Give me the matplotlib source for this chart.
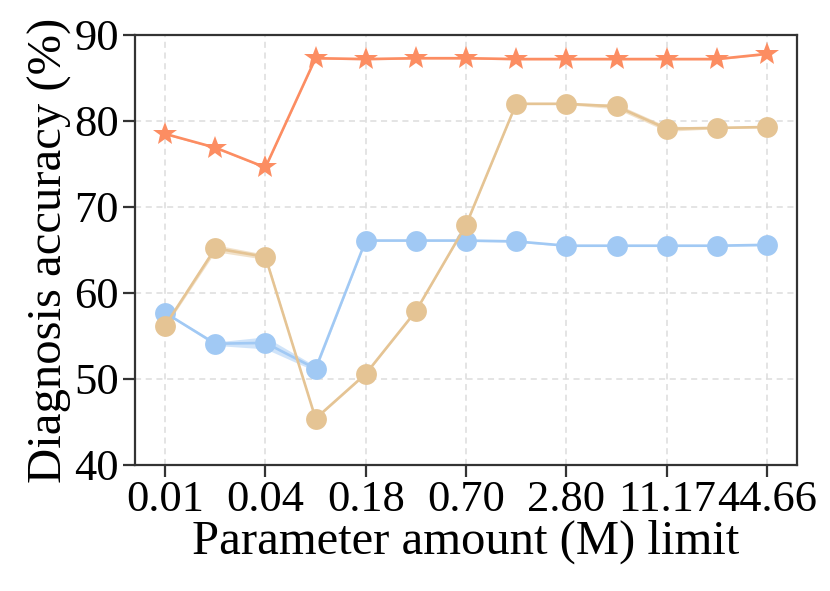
import numpy as np
import matplotlib.pyplot as plt

plt.rcParams['font.family'] = ['Liberation Serif', 'DejaVu Serif']

# parameter limits (M), one point per limit
param_limits = ['0.01', '0.02', '0.04', '0.09', '0.18', '0.35', '0.70',
                '1.40', '2.80', '5.58', '11.17', '22.33', '44.66']

# mean accuracy per method
acc_star = [78.5, 76.9, 74.6, 87.3, 87.2, 87.3, 87.3, 87.2, 87.2, 87.2, 87.2, 87.2, 87.8]
acc_tan = [56.2, 65.2, 64.2, 45.4, 50.6, 57.9, 67.9, 82.0, 82.0, 81.7, 79.1, 79.2, 79.3]
acc_blue = [57.7, 54.1, 54.2, 51.2, 66.1, 66.1, 66.1, 66.0, 65.5, 65.5, 65.5, 65.5, 65.6]

# spread (half width of the shaded band)
err_star = [0.1, 0.1, 0.1, 0.1, 0.1, 0.1, 0.1, 0.1, 0.1, 0.1, 0.1, 0.1, 0.1]
err_tan = [0.2, 0.4, 0.3, 0.1, 0.1, 0.1, 0.1, 0.1, 0.1, 0.3, 0.3, 0.1, 0.1]
err_blue = [0.1, 0.2, 0.7, 0.3, 0.1, 0.1, 0.1, 0.1, 0.1, 0.1, 0.1, 0.1, 0.1]

c_blue = '#A1C9F4'
c_tan = '#E5C494'
c_star = '#FC8D62'

x = np.arange(len(param_limits))

fig = plt.figure(figsize=(8.3, 5.91), dpi=100)
ax = fig.add_axes([0.1627, 0.2132, 0.7976, 0.7276])

for acc, err, col, mk, ms in [(acc_blue, err_blue, c_blue, 'o', 15),
                              (acc_tan, err_tan, c_tan, 'o', 15),
                              (acc_star, err_star, c_star, '*', 18)]:
    acc = np.array(acc)
    err = np.array(err)
    ax.fill_between(x, acc - err, acc + err, color=col, alpha=0.5, lw=0)
    ax.plot(x, acc, color=col, lw=1.9, marker=mk, markersize=ms,
            markeredgewidth=0, zorder=3)

ax.set_xlim(-0.6, 12.6)
ax.set_ylim(40, 90)
ax.set_xticks(x[::2])
ax.set_xticklabels(param_limits[::2])
ax.set_yticks([40, 50, 60, 70, 80, 90])

ax.grid(True, ls=(0, (4, 3)), color='#dddddd', lw=1.1)
ax.set_axisbelow(True)
for s in ax.spines.values():
    s.set_color('#333333')
    s.set_linewidth(1.6)
ax.tick_params(axis='both', labelsize=32, length=8.5, width=1.6, color='#333333', pad=3)
ax.tick_params(axis='x', pad=2)

ax.set_xlabel('Parameter amount (M) limit', fontsize=35, labelpad=0)
ax.set_ylabel('Diagnosis accuracy (%)', fontsize=35, labelpad=2)

fig.savefig('out.png', dpi=100)
